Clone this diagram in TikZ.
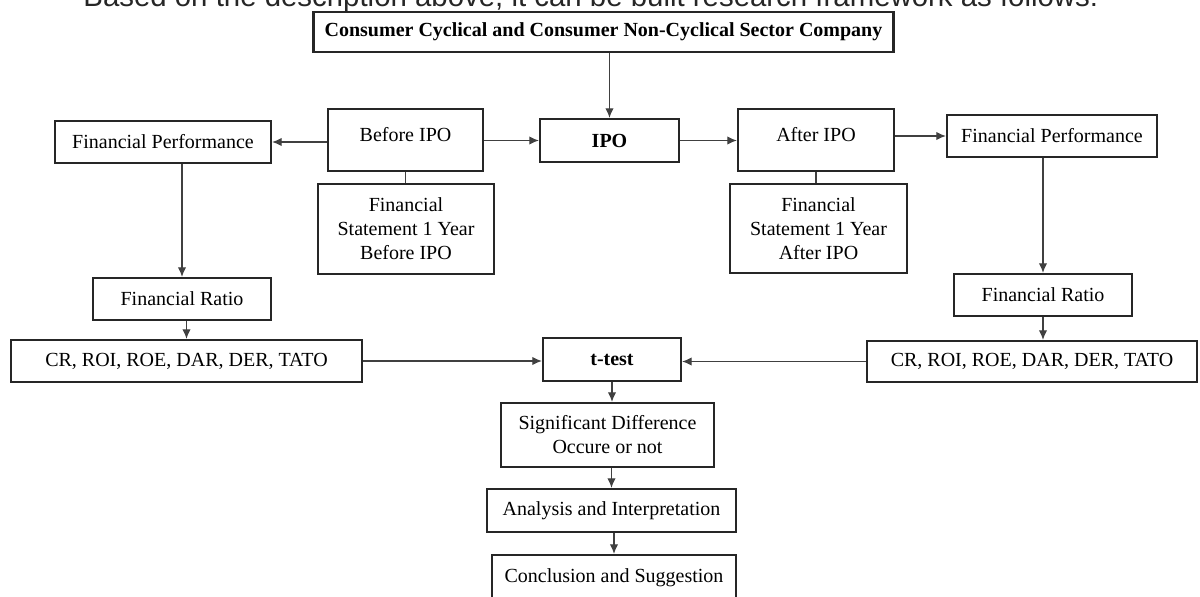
\documentclass[tikz,border=0pt]{standalone}
\usepackage{fontspec}
\setmainfont{Liberation Serif}
\newfontfamily\introfont{Liberation Sans}
\usetikzlibrary{arrows.meta}
\tikzset{
  plainbox/.style={rectangle,draw=black!85,line width=1.1pt,fill=white,inner sep=2pt,align=center,font=\fontsize{10}{12}\selectfont},
  headbox/.style={plainbox,font=\fontsize{10}{12}\selectfont\bfseries},
  flow/.style={draw=black!75,line width=0.6pt,-{Latex[length=4.8pt,width=4.2pt]}},
  tie/.style={draw=black!75,line width=0.6pt},
}

\begin{document}
\begin{tikzpicture}[x=0.5pt,y=-0.5pt]

  \useasboundingbox (0,0) rectangle (1200,596);
  \clip (0,0) rectangle (1200,596);
  % sentence cut off above the frame
  \node[anchor=base west,inner sep=0pt,font=\introfont\fontsize{14.7}{16}\selectfont,text=black!85] (intro) at (83,6) {Based on the description above, it can be built research framework as follows:};
  % sector
  \node[headbox,minimum width=290pt,minimum height=20pt] (company) at (603.5,32) {Consumer Cyclical and Consumer Non-Cyclical Sector Company};
  % IPO row
  \node[plainbox,minimum width=108pt,minimum height=21pt] (perfB) at (163,142) {Financial Performance};
  \node[plainbox,minimum width=77.5pt,minimum height=31pt,text depth=6pt] (before) at (405.5,140) {Before IPO};
  \node[headbox,minimum width=69.5pt,minimum height=21.5pt] (ipo) at (609.5,140.5) {IPO};
  \node[plainbox,minimum width=78pt,minimum height=31pt,text depth=6pt] (after) at (816,140) {After IPO};
  \node[plainbox,minimum width=105pt,minimum height=21pt] (perfA) at (1052,136) {Financial Performance};
  % statements
  \node[plainbox,minimum width=88pt,minimum height=45pt] (stmtB) at (406,229) {Financial\\Statement 1 Year\\Before IPO};
  \node[plainbox,minimum width=88.5pt,minimum height=44.5pt] (stmtA) at (818.5,228.5) {Financial\\Statement 1 Year\\After IPO};
  % ratios
  \node[plainbox,minimum width=89pt,minimum height=21pt] (ratioB) at (182,299) {Financial Ratio};
  \node[plainbox,minimum width=89pt,minimum height=21pt] (ratioA) at (1043,295) {Financial Ratio};
  \node[plainbox,minimum width=175.5pt,minimum height=21pt] (ratiosB) at (186.5,361) {CR, ROI, ROE, DAR, DER, TATO};
  \node[plainbox,minimum width=165pt,minimum height=20.5pt] (ratiosA) at (1032,361.5) {CR, ROI, ROE, DAR, DER, TATO};
  % test and results
  \node[headbox,minimum width=69pt,minimum height=21.5pt] (ttest) at (612,359.5) {t-test};
  \node[plainbox,minimum width=106.5pt,minimum height=32pt] (signif) at (607.5,435) {Significant Difference\\Occure or not};
  \node[plainbox,minimum width=124.5pt,minimum height=21.5pt] (analysis) at (611.5,510.5) {Analysis and Interpretation};
  \node[plainbox,minimum width=122pt,minimum height=22.5pt] (concl) at (614,577.5) {Conclusion and Suggestion};

  % connectors
  \draw[flow] (company.south -| ipo.north) -- (ipo.north);
  \draw[flow] (before.west |- perfB.east) -- (perfB.east);
  \draw[flow] (before.east |- ipo.west) -- (ipo.west);
  \draw[flow] (ipo.east) -- (ipo.east -| after.west);
  \draw[flow] (after.east |- perfA.west) -- (perfA.west);
  \draw[tie] (before.south) -- (before.south |- stmtB.north);
  \draw[tie] (after.south) -- (after.south |- stmtA.north);
  \draw[flow] (perfB.south -| ratioB.north) -- (ratioB.north);
  \draw[flow] (perfA.south -| ratioA.north) -- (ratioA.north);
  \draw[flow] (ratioB.south -| ratiosB.north) -- (ratiosB.north);
  \draw[flow] (ratioA.south) -- (ratioA.south |- ratiosA.north);
  \draw[flow] (ratiosB.east) -- (ratiosB.east -| ttest.west);
  \draw[flow] (ratiosA.west) -- (ratiosA.west -| ttest.east);
  \draw[flow] (ttest.south) -- (ttest.south |- signif.north);
  \draw[flow] (signif.south -| analysis.north) -- (analysis.north);
  \draw[flow] (analysis.south -| concl.north) -- (concl.north);
\end{tikzpicture}
\end{document}
